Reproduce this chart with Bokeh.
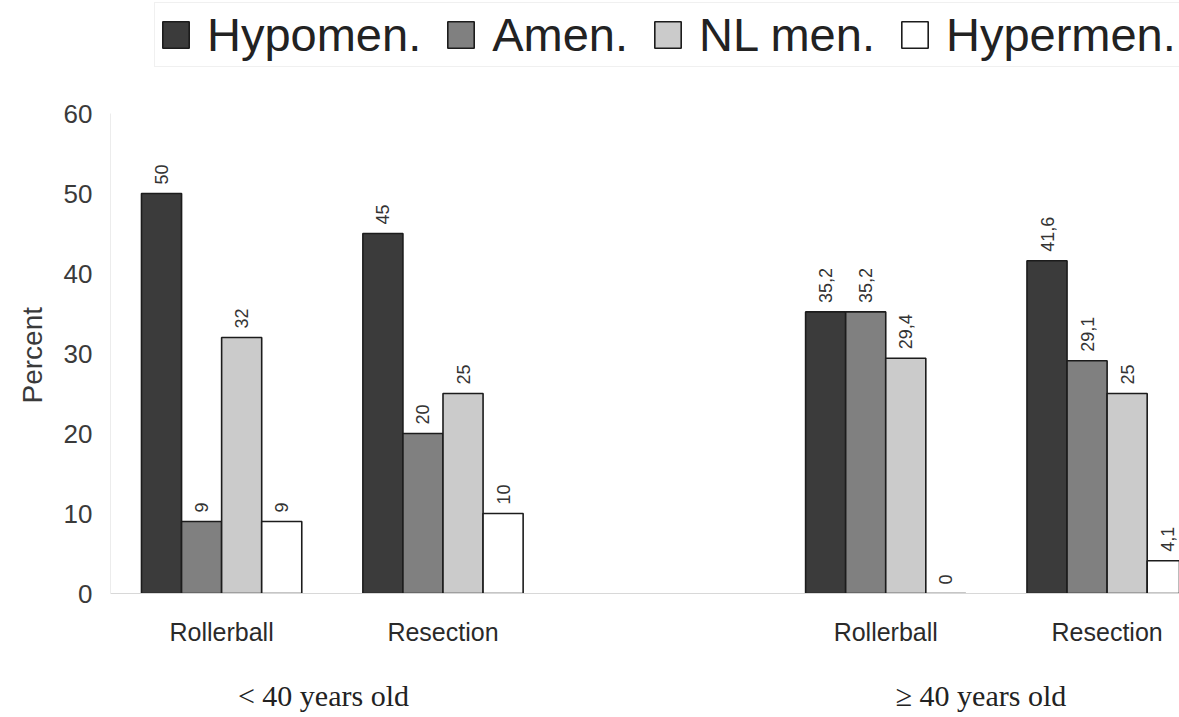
import numpy as np
from bokeh.plotting import figure
from bokeh.models import ColumnDataSource, FixedTicker, LinearAxis, Legend, LegendItem, Range1d, Title
from bokeh.core.properties import value
from bokeh.embed import file_html
from bokeh.resources import INLINE

# ---- data ----
methods = ["Rollerball", "Resection", "Rollerball", "Resection"]
method_pos = [0, 1, 3, 4]
age_labels = ["< 40 years old", "\u2265 40 years old"]
age_pos = [0.46, 3.43]
series = ["Hypomen.", "Amen.", "NL men.", "Hypermen."]
hypomen = [50, 45, 35.2, 41.6]
amen = [9, 20, 35.2, 29.1]
nl_men = [32, 25, 29.4, 25]
hypermen = [9, 10, 0, 4.1]
y_ticks = [0, 10, 20, 30, 40, 50, 60]
y_title = "Percent"

colors = ["#3b3b3b", "#808080", "#cbcbcb", "#ffffff"]
W = 0.181


def fmt(v):
    return (str(int(v)) if float(v).is_integer() else str(v)).replace(".", ",")


p = figure(width=1179, height=717, output_backend="svg", toolbar_location=None,
           x_range=Range1d(-0.502, 4.327), y_range=Range1d(0, 74.125),
           min_border_left=110, min_border_right=0, min_border_top=0, min_border_bottom=124)
p.outline_line_color = None
p.grid.grid_line_color = None
p.background_fill_color = "white"

items = []
for i, (name, vals, col) in enumerate(zip(series, [hypomen, amen, nl_men, hypermen], colors)):
    xs = [g + (i - 1.5) * W for g in method_pos]
    src = ColumnDataSource(dict(x=xs, top=vals, label=[fmt(v) for v in vals]))
    r = p.vbar(x="x", top="top", bottom=0, width=W, source=src,
               fill_color=col, line_color="#1c1c1c", line_width=1.6)
    p.text(x="x", y="top", text="label", source=src, angle=np.pi / 2,
           text_align="left", text_baseline="middle", y_offset=-9,
           text_font=value("Liberation Sans"), text_font_size="18px", text_color="#333333")
    items.append(LegendItem(label=name, renderers=[r]))

legend = Legend(items=items, orientation="horizontal", location=(44, 526),
                glyph_width=33, glyph_height=33, label_standoff=15, spacing=23,
                padding=4, margin=0,
                label_text_font="Liberation Sans", label_text_font_size="47px",
                label_text_color="#222222", border_line_color="#e2e2e2",
                background_fill_color="white", background_fill_alpha=1.0)
p.add_layout(legend, "center")

# y axis
p.yaxis.ticker = FixedTicker(ticks=y_ticks)
p.yaxis.bounds = (0, 60)
p.yaxis.axis_line_color = "#ececec"
p.yaxis.major_tick_line_color = None
p.yaxis.major_tick_out = 0
p.yaxis.minor_tick_line_color = None
p.yaxis.major_label_standoff = 18
p.yaxis.major_label_text_font = "Liberation Sans"
p.yaxis.major_label_text_font_size = "26px"
p.yaxis.major_label_text_color = "#3a3a3a"

# y-axis title, placed along the 0-60 span
ytitle = Title(text=y_title, align="left", offset=190, standoff=26,
               text_font="Liberation Sans", text_font_size="28px",
               text_font_style="normal", text_color="#3a3a3a")
p.add_layout(ytitle, "left")

# x axis (methods)
p.xaxis.ticker = FixedTicker(ticks=method_pos)
p.xaxis.major_label_overrides = {k: v for k, v in zip(method_pos, methods)}
p.xaxis.axis_line_color = "#d8d8d8"
p.xaxis.major_tick_line_color = None
p.xaxis.major_tick_out = 0
p.xaxis.minor_tick_line_color = None
p.xaxis.major_label_standoff = 24
p.xaxis.major_label_text_font = "Liberation Sans"
p.xaxis.major_label_text_font_size = "25px"
p.xaxis.major_label_text_color = "#2a2a2a"

# second x axis (age groups)
ax2 = LinearAxis(ticker=FixedTicker(ticks=age_pos),
                 major_label_overrides={k: v for k, v in zip(age_pos, age_labels)})
ax2.axis_line_color = None
ax2.major_tick_line_color = None
ax2.major_tick_out = 0
ax2.minor_tick_line_color = None
ax2.major_label_standoff = 30
ax2.major_label_text_font = "Liberation Serif"
ax2.major_label_text_font_size = "30px"
ax2.major_label_text_color = "#222222"
p.add_layout(ax2, "below")

open("out.html", "w").write(file_html(p, INLINE))
